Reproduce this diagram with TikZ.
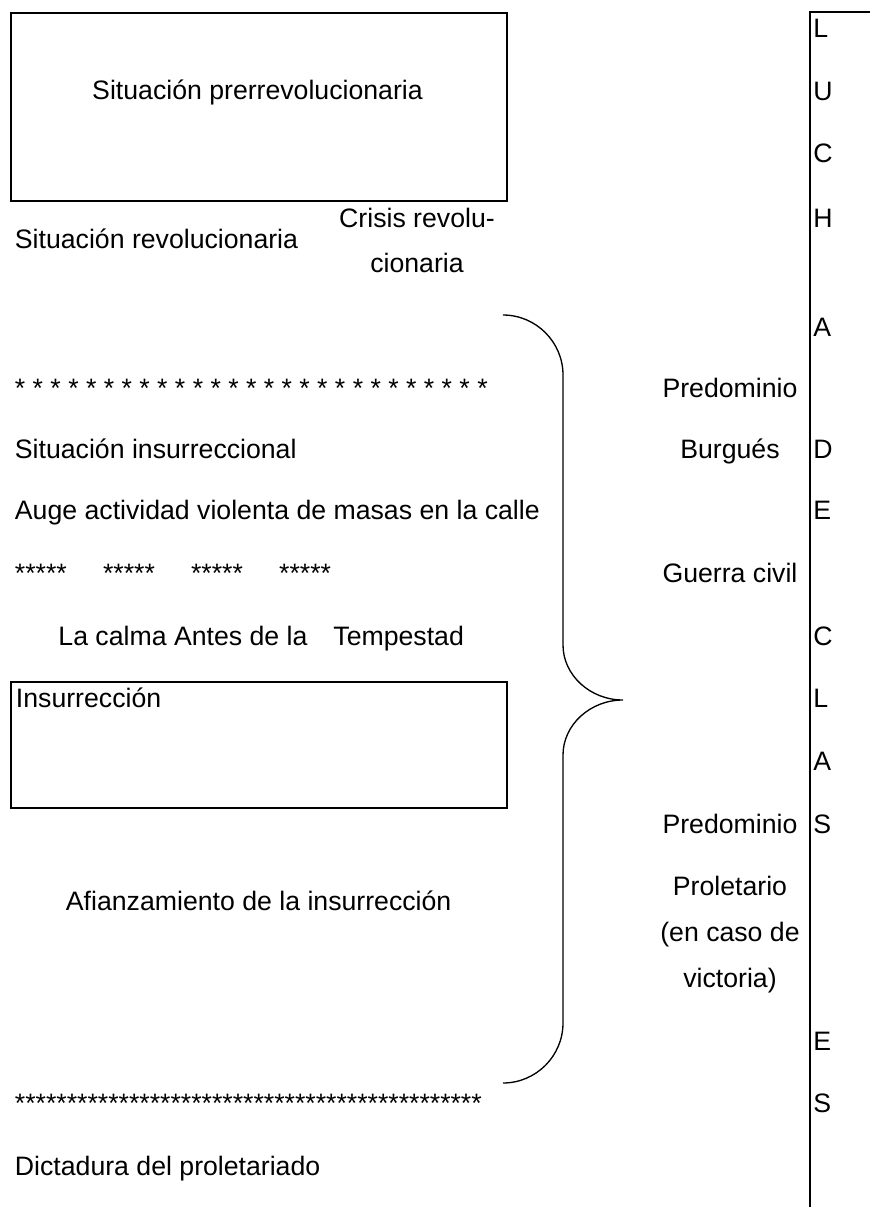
\documentclass[tikz,border=0pt]{standalone}
\usepackage{fontspec}
\setmainfont{Liberation Sans}

\tikzset{
	txt/.style={anchor=base west, inner sep=0pt, font=\fontsize{12pt}{14pt}\selectfont},
	ctxt/.style={txt, anchor=base},
	caja/.style={draw, line width=0.9pt, inner sep=0pt, anchor=north west, minimum width=223.2pt, minimum height=84.7pt},
	llave/.style={line width=0.6pt},
	raya/.style={line width=0.9pt}
}

\begin{document}
\begin{tikzpicture}[x=0.45pt, y=-0.45pt]
	\useasboundingbox (0,0) rectangle (870,1207);
	     % cajas %
      \node[caja] (prebox) at (9.5,11.7) {};
      \node[caja, minimum height=56.7pt] (insbox) at (9.5,681) {};

	     % textos izquierda %
      \node[ctxt] (pre) at (257.5,99.5) {Situación prerrevolucionaria};
      \node[txt] (revol) at (14.5,248) {Situación revolucionaria};
      \node[ctxt] (crisis) at (417,227) {Crisis revolu-};
      \node[ctxt] (cion) at (417,272) {cionaria};
      \node[txt] (est1) at (14.5,397) {* * * * * * * * * * * * * * * * * * * * * * * * * * *};
      \node[txt] (insurr) at (14.5,458) {Situación insurreccional};
      \node[txt] (auge) at (14.5,519) {Auge actividad violenta de masas en la calle};
      \node[txt] (est2) at (14.5,582) {*****\hspace{16.3pt}*****\hspace{16.3pt}*****\hspace{16.3pt}*****};
      \node[txt] (calma) at (58,645) {La calma Antes de la\hspace{11.7pt}Tempestad};
      \node[txt] (ins) at (15.5,707) {Insurrección};
      \node[txt] (afian) at (65.5,910) {Afianzamiento de la insurrección};
      \node[txt] (est3) at (14.5,1112) {*********************************************};
      \node[txt] (dicta) at (14.5,1175) {Dictadura del proletariado};

	     % textos derecha %
      \node[ctxt] (predb) at (730,397) {Predominio};
      \node[ctxt] (burg) at (730,458) {Burgués};
      \node[ctxt] (guerra) at (730,582) {Guerra civil};
      \node[ctxt] (predp) at (730,833) {Predominio};
      \node[ctxt] (prol) at (730,895) {Proletario};
      \node[ctxt] (caso) at (730,941) {(en caso de};
      \node[ctxt] (vict) at (730,987) {victoria)};

	     % LUCHA DE CLASES %
      \node[txt] (lu1) at (813,37.5) {L};
      \node[txt] (lu2) at (813,100) {U};
      \node[txt] (lu3) at (813,162) {C};
      \node[txt] (lu4) at (813,227) {H};
      \node[txt] (lu5) at (813,336) {A};
      \node[txt] (lu6) at (813,458) {D};
      \node[txt] (lu7) at (813,519) {E};
      \node[txt] (lu8) at (813,645) {C};
      \node[txt] (lu9) at (813,707) {L};
      \node[txt] (lu10) at (813,770) {A};
      \node[txt] (lu11) at (813,833) {S};
      \node[txt] (lu12) at (813,1050) {E};
      \node[txt] (lu13) at (813,1112) {S};

	     % lineas %
      \coordinate (esq) at (810,11.7);
      \coordinate (esqd) at (870,11.7);
      \coordinate (fondo) at (810,1207);
      \draw[raya] (esqd) -- (esq) -- (fondo);

      % llave %
      \draw[llave] (503,315) .. controls (536,315) and (563,342) .. (563,375) -- (563,645)
        .. controls (563,675) and (590,700) .. (623,700)
        .. controls (590,700) and (563,725) .. (563,755) -- (563,1023)
        .. controls (563,1056) and (536,1083) .. (503,1083);
\end{tikzpicture}
\end{document}
